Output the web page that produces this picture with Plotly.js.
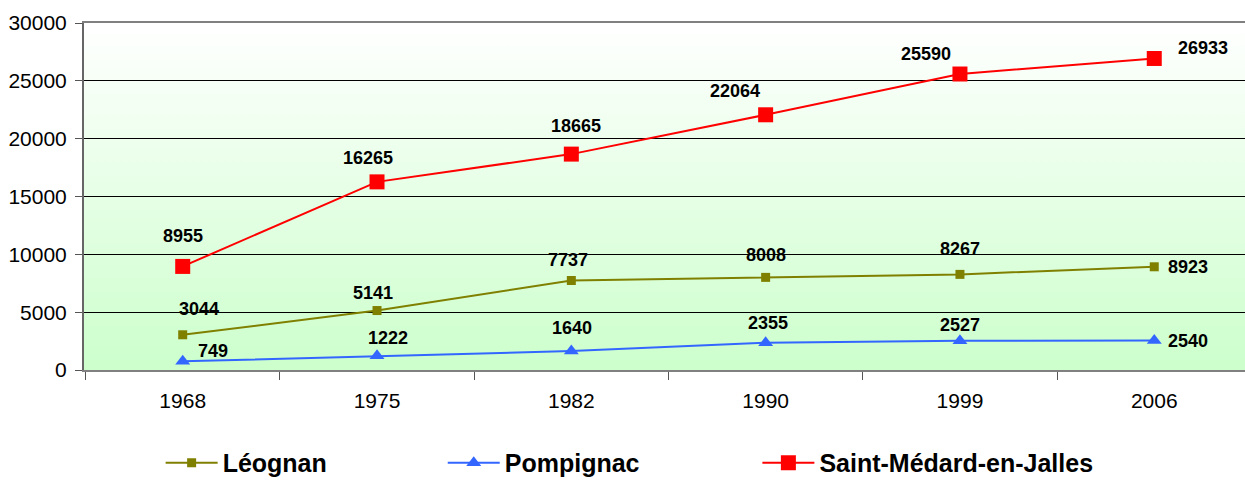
<!DOCTYPE html>
<html>
<head>
<meta charset="utf-8">
<script src="https://cdn.plot.ly/plotly-3.0.1.min.js"></script>
<style>
  html, body { margin: 0; padding: 0; background: #fff; }
  #chart { width: 1245px; height: 481px; }
</style>
</head>
<body>
<div id="chart"></div>
<script>
let years = ['1968', '1975', '1982', '1990', '1999', '2006'];
let leognan = [3044, 5141, 7737, 8008, 8267, 8923];
let pompignac = [749, 1222, 1640, 2355, 2527, 2540];
let saintMedard = [8955, 16265, 18665, 22064, 25590, 26933];
let yTicks = [0, 5000, 10000, 15000, 20000, 25000, 30000];

// label offsets (px) relative to each point, right / up
let shiftLeognan = [[16, 26], [-4, 18], [-3, 21], [0, 22], [0, 25], [34, 0]];
let shiftPompignac = [[30, 10], [11, 18], [1, 23], [2, 20], [0, 16], [34, 0]];
let shiftSaint = [[0, 30], [-9, 24], [5, 28], [-31, 24], [-34, 20], [49, 10]];

const fontName = 'Liberation Sans, Arial, sans-serif';

var tr1 = {
    x: years, y: leognan, name: 'Léognan', legend: 'legend',
    mode: 'lines+markers',
    line: {color: '#808000', width: 2},
    marker: {symbol: 'square', size: 9, color: '#808000'}
};
var tr2 = {
    x: years, y: pompignac, name: 'Pompignac', legend: 'legend2',
    mode: 'lines+markers',
    line: {color: '#3366FF', width: 2},
    marker: {symbol: 'triangle-up', size: 13, color: '#3366FF'}
};
var tr3 = {
    x: years, y: saintMedard, name: 'Saint-Médard-en-Jalles', legend: 'legend3',
    mode: 'lines+markers',
    line: {color: '#FF0000', width: 2},
    marker: {symbol: 'square', size: 15, color: '#FF0000'}
};

function makeLabels(vals, shifts) {
    var out = [];
    for (var i = 0; i < vals.length; i++) {
        out.push({
            xref: 'x', yref: 'y',
            x: i, y: vals[i], text: '<b>' + vals[i] + '</b>', showarrow: false,
            xanchor: 'center', yanchor: 'middle',
            xshift: shifts[i][0], yshift: shifts[i][1],
            font: {family: fontName, size: 18, color: '#000'}
        });
    }
    return out;
}

var gradient = 'data:image/svg+xml;utf8,' + encodeURIComponent(
    '<svg xmlns="http://www.w3.org/2000/svg" width="100" height="100" preserveAspectRatio="none">' +
    '<defs><linearGradient id="g" x1="0" y1="0" x2="0" y2="1">' +
    '<stop offset="0" stop-color="#FFFFFF"/><stop offset="1" stop-color="#CCFFCC"/>' +
    '</linearGradient></defs><rect width="100" height="100" fill="url(#g)"/></svg>');

function legendAt(x) {
    return {
        x: x, y: -0.268, xanchor: 'left', yanchor: 'middle',
        orientation: 'h', itemwidth: 52, bgcolor: 'rgba(0,0,0,0)',
        font: {family: fontName, size: 25, color: '#000', weight: 700}
    };
}

var layout = {
    width: 1245, height: 481,
    margin: {l: 84, r: 0, t: 23, b: 111, pad: 0, autoexpand: false},
    paper_bgcolor: '#FFFFFF',
    plot_bgcolor: 'rgba(0,0,0,0)',
    font: {family: fontName, color: '#000'},
    showlegend: true,
    legend: legendAt(0.066),
    legend2: legendAt(0.309),
    legend3: legendAt(0.580),
    images: [{
        source: gradient, xref: 'paper', yref: 'paper',
        x: 0, y: 1, sizex: 1, sizey: 1, sizing: 'stretch',
        xanchor: 'left', yanchor: 'top', layer: 'below'
    }],
    xaxis: {
        type: 'category', automargin: false,
        range: [-0.508, 5.467],
        tickson: 'boundaries',
        ticks: 'outside', ticklen: 8, tickcolor: '#555', tickwidth: 1,
        showgrid: false, zeroline: false,
        showline: true, linecolor: '#808080', linewidth: 2, mirror: true,
        tickfont: {family: fontName, size: 21, color: '#000'},
        ticklabelstandoff: 11
    },
    yaxis: {
        automargin: false,
        range: [0, 30000],
        tickvals: yTicks,
        tickformat: 'd',
        ticks: 'outside', ticklen: 7, tickcolor: '#555', tickwidth: 1,
        showgrid: true, gridcolor: '#000000', gridwidth: 1,
        zeroline: false,
        showline: true, linecolor: '#666666', linewidth: 2,
        tickfont: {family: fontName, size: 21, color: '#000'},
        ticklabelstandoff: 4
    },
    annotations: [].concat(makeLabels(leognan, shiftLeognan), makeLabels(pompignac, shiftPompignac), makeLabels(saintMedard, shiftSaint))
};

Plotly.newPlot('chart', [tr1, tr2, tr3], layout, {staticPlot: true});
</script>
</body>
</html>
